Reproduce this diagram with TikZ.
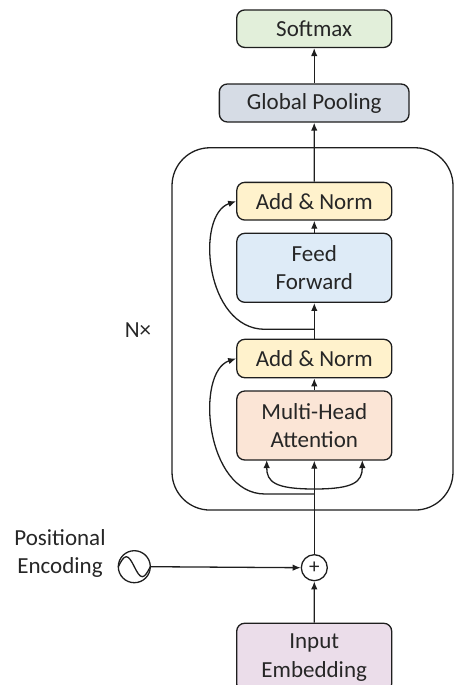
\documentclass[tikz,border=0pt]{standalone}
\usepackage{fontspec}
\setmainfont{Carlito}
\usetikzlibrary{arrows.meta}
\definecolor{edge}{HTML}{1E1E1E}
\definecolor{txt}{HTML}{262626}
\definecolor{cSoft}{HTML}{E2EFDA}
\definecolor{cPool}{HTML}{D6DCE5}
\definecolor{cAdd}{HTML}{FFF2CC}
\definecolor{cFF}{HTML}{DEEBF7}
\definecolor{cMHA}{HTML}{FBE5D6}
\definecolor{cEmb}{HTML}{EBDDEA}
\begin{document}
\begin{tikzpicture}[x=1pt,y=-1pt,
  lbl/.style={text=txt, align=center, font=\fontsize{23}{28.5}\selectfont},
  box/.style={lbl, draw=edge, line width=1.3pt, rounded corners=8pt,
    minimum width=155pt, inner sep=0pt},
  wire/.style={draw=edge, line width=1.3pt},
  conn/.style={wire, -{Latex[length=8pt,width=6.5pt]}}]
\useasboundingbox (0,0) rectangle (455,685);
% boxes
\node[box, fill=cSoft, minimum height=37.5pt] (soft) at (314.2,28.7) {Softmax};
\node[box, fill=cPool, minimum width=189.7pt, minimum height=38pt] (pool) at (314.2,103) {Global Pooling};
\node[wire, rounded corners=38pt, minimum width=281pt, minimum height=362.3pt, inner sep=0pt] (enc) at (312.5,328.9) {};
\node[box, fill=cAdd, minimum height=37.7pt] (an2) at (314.3,201.2) {Add \& Norm};
\node[box, fill=cFF, minimum height=69pt] (ff) at (314.3,267.8) {Feed\\Forward};
\node[box, fill=cAdd, minimum height=38.4pt] (an1) at (314.3,358.5) {Add \& Norm};
\node[box, fill=cMHA, minimum height=69pt] (mha) at (314.3,425.5) {Multi-Head\\Attention};
\node[box, fill=cEmb, minimum height=68.5pt] (emb) at (314.2,657.5) {Input\\Embedding};
\node[wire, circle, minimum size=26pt, inner sep=0pt, text=txt, font=\fontsize{21}{22}\selectfont] (plus) at (314.3,567.7) {+};
\node[wire, circle, minimum size=32pt, inner sep=0pt] (pe) at (134.3,566.7) {};
\node[lbl] (pelabel) at (60,553.5) {Positional\\Encoding};
\node[lbl] (nx) at (138,330) {N×};
% sine wave
\draw[wire] (118.3,566.7) sin ++(8,-10) cos ++(8,10) sin ++(8,10) cos ++(8,-10);
% coordinates
\coordinate (b2) at (314.3,329.3);
\coordinate (b1) at (314.3,494);
\coordinate (b0) at (314.3,489);
\coordinate (q) at (266.7,460);
\coordinate (v) at (362.3,460);
% connectors
\draw[conn] (pool.north) -- (soft.south);
\draw[conn] (an2.north) -- (pool.south);
\draw[conn] (ff.north) -- (an2.south);
\draw[conn] (an1.north) -- (ff.south);
\draw[conn] (mha.north) -- (an1.south);
\draw[conn] (plus.north) -- (mha.south);
\draw[conn] (emb.north) -- (plus.south);
\draw[conn] (pe.east) -- (plus.west);
\draw[conn] (b2) -- (265,329.3) .. controls (205,329.3) and (195,215) .. (an2.west);
\draw[conn] (b1) -- (265,494) .. controls (205,494) and (195,372) .. (an1.west);
\draw[conn] (b0) .. controls (275,489) and (266.7,482) .. (q);
\draw[conn] (b0) .. controls (353.6,489) and (362.3,482) .. (v);
\end{tikzpicture}
\end{document}
